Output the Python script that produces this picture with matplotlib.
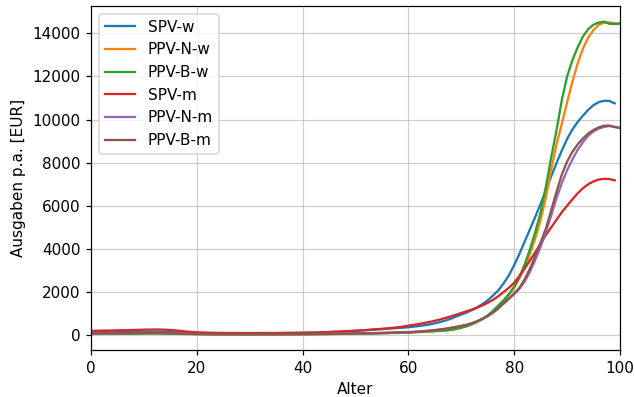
import matplotlib
matplotlib.use("Agg")
import matplotlib.pyplot as plt

ages_short = list(range(0, 100))   # SPV series end at 99
ages_long = list(range(0, 101))    # PPV series end at 100

spv_w = [130,135,138,140,142,145,148,150,152,155,
         158,160,160,158,150,140,130,120,110,105,
         100,97,95,93,92,91,90,90,90,90,
         90,90,91,92,93,95,97,100,103,106,
         110,115,120,128,135,145,155,165,175,188,
         200,215,230,245,262,280,298,315,333,350,
         370,395,425,460,500,550,610,680,760,860,
         960,1050,1160,1290,1440,1620,1840,2080,2400,2780,
         3250,3780,4350,4920,5500,6100,6720,7370,7980,8560,
         9100,9540,9890,10180,10450,10670,10810,10870,10860,10750]

ppv_n_w = [55,57,59,61,63,65,67,69,71,73,
           75,78,80,78,75,70,65,60,55,51,
           48,46,44,42,40,39,38,38,38,38,
           38,38,38,38,38,38,39,40,41,42,
           43,44,45,47,49,52,55,58,61,64,
           67,71,75,79,85,92,97,103,109,115,
           120,130,143,158,173,185,200,215,242,280,
           340,410,500,615,745,900,1100,1350,1600,1880,
           2200,2650,3150,3800,4500,5350,6400,7700,8850,9800,
           10800,11750,12600,13300,13800,14150,14400,14490,14500,14460,
           14450]

ppv_b_w = [60,62,64,66,68,70,72,74,76,78,
           80,83,85,83,80,75,70,64,58,54,
           50,48,46,44,42,40,40,40,40,40,
           40,40,40,40,40,40,41,42,43,44,
           45,46,47,49,51,55,58,61,64,67,
           70,74,78,82,88,95,100,106,112,118,
           125,135,150,165,180,190,205,220,250,290,
           350,420,510,630,760,920,1130,1380,1620,1900,
           2250,2700,3300,4000,4800,5700,6900,8250,9500,10900,
           12000,12750,13350,13850,14200,14400,14500,14540,14440,14430,
           14450]

spv_m = [200,205,210,215,220,225,230,235,240,248,
         255,260,265,262,255,240,220,195,170,150,
         135,125,118,112,108,105,103,101,100,100,
         100,100,100,100,101,102,103,105,107,109,
         112,116,122,130,138,148,158,170,182,195,
         210,225,240,258,276,295,318,340,365,400,
         440,480,520,565,615,670,730,800,870,950,
         1030,1110,1190,1280,1380,1500,1640,1810,2000,2200,
         2430,2750,3100,3480,3850,4250,4650,5000,5350,5700,
         6000,6300,6580,6820,7000,7130,7220,7250,7240,7180]

ppv_n_m = [70,72,74,76,78,80,83,86,89,92,
           95,98,100,98,94,88,80,72,65,60,
           56,53,50,48,46,45,44,44,44,44,
           44,44,44,44,45,45,46,47,48,49,
           50,52,54,56,58,61,64,67,70,74,
           78,82,86,90,95,100,106,113,120,128,
           136,150,165,185,205,230,260,295,335,380,
           425,475,550,645,755,885,1045,1240,1465,1680,
           1900,2150,2500,2950,3500,4100,4800,5550,6350,7050,
           7650,8150,8600,8950,9250,9450,9580,9660,9700,9660,
           9620]

ppv_b_m = [80,82,84,86,88,90,93,96,99,102,
           104,106,107,105,100,93,85,77,70,64,
           60,56,53,51,49,48,47,47,47,47,
           47,47,47,47,48,48,49,50,51,52,
           53,55,57,59,61,64,67,70,74,78,
           82,86,90,95,100,106,112,119,126,133,
           140,155,170,190,210,235,265,300,340,385,
           430,480,555,650,760,890,1050,1250,1480,1700,
           1940,2200,2600,3100,3700,4300,4950,5800,6650,7450,
           8050,8500,8850,9120,9350,9520,9640,9710,9720,9650,
           9610]

series = [
    ("SPV-w", ages_short, spv_w),
    ("PPV-N-w", ages_long, ppv_n_w),
    ("PPV-B-w", ages_long, ppv_b_w),
    ("SPV-m", ages_short, spv_m),
    ("PPV-N-m", ages_long, ppv_n_m),
    ("PPV-B-m", ages_long, ppv_b_m),
]

DPI = 110
fig = plt.figure(figsize=(635 / DPI, 397 / DPI), dpi=DPI)
ax = fig.add_axes([91 / 635, 47 / 397, 529 / 635, 344 / 397])
for label, x, y in series:
    ax.plot(x, y, label=label)

ax.set_xlim(0, 100)
ax.grid(True, color="#b0b0b0", alpha=0.6)
ax.set_xlabel("Alter")
ax.set_ylabel("Ausgaben p.a. [EUR]")
ax.legend(loc="upper left")
fig.savefig("out.png", dpi=DPI)
